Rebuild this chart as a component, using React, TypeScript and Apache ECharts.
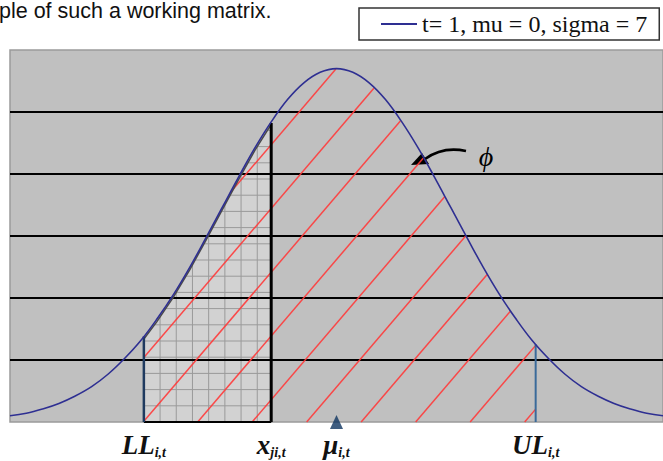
import React, { useEffect, useRef } from 'react';
import * as echarts from 'echarts';

// Normal density read along the x axis (t = 1, mu = 0, sigma = 7)
const CURVE_X = [
  -20, -19, -18, -17, -16, -15, -14, -13, -12, -11, -10, -9, -8, -7, -6, -5, -4, -3, -2, -1, 0,
  1, 2, 3, 4, 5, 6, 7, 8, 9, 10, 11, 12, 13, 14, 15, 16, 17, 18, 19, 20,
];
const DENSITY = [
  0.001, 0.0014, 0.0021, 0.003, 0.0042, 0.0057, 0.0077, 0.0102, 0.0131, 0.0166, 0.0205,
  0.0249, 0.0297, 0.0346, 0.0395, 0.0442, 0.0484, 0.052, 0.0547, 0.0564, 0.057,
  0.0564, 0.0547, 0.052, 0.0484, 0.0442, 0.0395, 0.0346, 0.0297, 0.0249, 0.0205,
  0.0166, 0.0131, 0.0102, 0.0077, 0.0057, 0.0042, 0.003, 0.0021, 0.0014, 0.001,
];
const SERIES_NAME = 't= 1, mu = 0, sigma = 7';

// Horizontal reference lines
const Y_TICKS = [0.01, 0.02, 0.03, 0.04, 0.05];

// Marked positions on the x axis: lower limit, x_ji, mean, upper limit
const MARKER_VALUES = [-11.8, -4, 0, 12.2];
const MARKER_MAIN = ['LL', 'x', 'μ', 'UL'];
const MARKER_SUB = ['i,t', 'ji,t', 'i,t', 'i,t'];

const HEADER_TEXT = 'ple of such a working matrix.';
const CURVE_SYMBOL = '\u03D5';

const X_MIN = -20;
const X_MAX = 20;
const Y_MAX = 0.06;

const SERIF = '"Liberation Serif", "Times New Roman", "DejaVu Serif", serif';
const SANS = '"Liberation Sans", Arial, sans-serif';

// Drawing styles for the shaded bands
const HATCH_SLOPE = 1.17;
const HATCH_SPACING = 54.5;
const HATCH_PHASE = 11;
const CELL = 16.2;
const EDGE_GAP = 2.5;

const [LL, XJ, MU, UL] = MARKER_VALUES;

function renderDiagram(_params: any, api: any) {
  const [left, bottom] = api.coord([X_MIN, 0]);
  const right = api.coord([X_MAX, 0])[0];
  const top = api.coord([X_MIN, Y_MAX])[1];
  const pts: number[][] = CURVE_X.map((x, i) => api.coord([x, DENSITY[i]]));

  const curveY = (px: number) => {
    for (let i = 1; i < pts.length; i++) {
      if (px <= pts[i][0]) {
        const [x0, y0] = pts[i - 1];
        const [x1, y1] = pts[i];
        const t = (px - x0) / (x1 - x0);
        return y0 + t * (y1 - y0);
      }
    }
    return pts[pts.length - 1][1];
  };

  const llx = api.coord([LL, 0])[0];
  const xjx = api.coord([XJ, 0])[0];
  const ulx = api.coord([UL, 0])[0];

  const children: any[] = [];

  // Cross-hatched band between LL and x_ji
  const edge: number[][] = [[llx, curveY(llx) + EDGE_GAP]];
  pts.forEach((p) => {
    if (p[0] > llx && p[0] < xjx) edge.push([p[0], p[1] + EDGE_GAP]);
  });
  edge.push([xjx, curveY(xjx) + EDGE_GAP]);
  children.push({
    type: 'polygon',
    shape: { points: [[llx, bottom], ...edge, [xjx, bottom]] },
    style: { fill: '#D2D2D2', stroke: 'none' },
  });
  for (let px = llx + CELL; px < xjx - 2; px += CELL) {
    children.push({
      type: 'line',
      shape: { x1: px, y1: bottom, x2: px, y2: curveY(px) + EDGE_GAP },
      style: { stroke: '#9A9A9A', lineWidth: 1 },
    });
  }
  const topAtXj = curveY(xjx) + EDGE_GAP;
  for (let py = bottom - CELL; py > topAtXj; py -= CELL) {
    let sx = xjx;
    for (let px = llx; px <= xjx; px += 0.5) {
      if (curveY(px) + EDGE_GAP <= py) {
        sx = px;
        break;
      }
    }
    children.push({
      type: 'line',
      shape: { x1: sx, y1: py, x2: xjx, y2: py },
      style: { stroke: '#9A9A9A', lineWidth: 1 },
    });
  }

  // Horizontal reference lines
  Y_TICKS.forEach((v) => {
    const y = api.coord([X_MIN, v])[1];
    children.push({
      type: 'line',
      shape: { x1: left, y1: y, x2: right, y2: y },
      style: { stroke: '#000', lineWidth: 1.8 },
    });
  });

  // Diagonal hatch between LL and UL under the curve
  const rise = bottom - top;
  for (let b = ulx - HATCH_PHASE; b > llx - rise / HATCH_SLOPE; b -= HATCH_SPACING) {
    let start: number | null = null;
    let last = 0;
    const push = (s: number, e: number) => {
      if (e - s < 0.5) return;
      children.push({
        type: 'line',
        shape: {
          x1: s,
          y1: bottom - HATCH_SLOPE * (s - b),
          x2: e,
          y2: bottom - HATCH_SLOPE * (e - b),
        },
        style: { stroke: '#FF3A3A', lineWidth: 1.5, opacity: 0.9 },
      });
    };
    for (let px = Math.max(b, llx); px <= ulx; px += 0.5) {
      const y = bottom - HATCH_SLOPE * (px - b);
      const inside = y <= bottom + 0.01 && y >= curveY(px);
      if (inside && start === null) start = px;
      if (!inside && start !== null) {
        push(start, last);
        start = null;
      }
      last = px;
    }
    if (start !== null) push(start, last);
  }

  // Boundary lines
  children.push({
    type: 'polyline',
    shape: { points: edge },
    style: { stroke: '#4A4A4A', lineWidth: 1.5, fill: 'none' },
  });
  children.push({
    type: 'line',
    shape: { x1: llx, y1: bottom, x2: xjx, y2: bottom },
    style: { stroke: '#000', lineWidth: 2 },
  });
  children.push({
    type: 'line',
    shape: { x1: llx, y1: bottom, x2: llx, y2: curveY(llx) },
    style: { stroke: '#1F3A5F', lineWidth: 2.5 },
  });
  children.push({
    type: 'line',
    shape: { x1: xjx, y1: bottom, x2: xjx, y2: curveY(xjx) + 1 },
    style: { stroke: '#000', lineWidth: 3 },
  });
  children.push({
    type: 'line',
    shape: { x1: ulx, y1: bottom, x2: ulx, y2: curveY(ulx) },
    style: { stroke: '#3A6A9A', lineWidth: 2 },
  });

  // Axis labels with subscripts
  MARKER_VALUES.forEach((v, i) => {
    const x = api.coord([v, 0])[0];
    children.push({
      type: 'text',
      x,
      y: bottom + 23,
      style: {
        text: `{m|${MARKER_MAIN[i]}}{s|${MARKER_SUB[i]}}`,
        align: 'center',
        verticalAlign: 'middle',
        fill: '#111',
        rich: {
          m: {
            fontSize: 27,
            fontStyle: 'italic',
            fontWeight: 'bold',
            fontFamily: SERIF,
            fill: '#111',
            lineHeight: 28,
          },
          s: {
            fontSize: 14,
            fontStyle: 'italic',
            fontWeight: 'bold',
            fontFamily: SERIF,
            fill: '#111',
            lineHeight: 12,
            verticalAlign: 'bottom',
          },
        },
      },
    });
  });

  return { type: 'group', children };
}

export default function App() {
  const ref = useRef<HTMLDivElement>(null);

  useEffect(() => {
    if (!ref.current) return;
    const chart = echarts.init(ref.current, null, { renderer: 'svg' });
    const curveData = CURVE_X.map((x, i) => [x, DENSITY[i]]);

    chart.setOption({
      animation: false,
      backgroundColor: '#ffffff',
      grid: {
        left: 10,
        top: 50,
        width: 654,
        height: 372,
        show: true,
        backgroundColor: '#C0C0C0',
        borderColor: '#9A9A9A',
        borderWidth: 1.5,
      },
      xAxis: { type: 'value', min: X_MIN, max: X_MAX, interval: 5, show: false },
      yAxis: {
        type: 'value',
        min: 0,
        max: Y_MAX,
        interval: 0.01,
        show: false,
        splitLine: { show: false },
      },
      legend: {
        data: [SERIES_NAME],
        left: 359,
        top: 8,
        padding: [4, 12, 4, 22],
        borderColor: '#333',
        borderWidth: 1.5,
        backgroundColor: '#fff',
        icon: 'rect',
        itemWidth: 36,
        itemHeight: 2,
        selectedMode: false,
        textStyle: { fontFamily: SERIF, fontSize: 24, color: '#111', lineHeight: 24 },
      },
      graphic: [
        {
          type: 'text',
          left: -1,
          top: 0,
          style: { text: HEADER_TEXT, font: `21.5px ${SANS}`, fill: '#111' },
        },
        {
          type: 'text',
          x: 486,
          y: 156,
          style: {
            text: CURVE_SYMBOL,
            fontSize: 28,
            fontStyle: 'italic',
            fontFamily: SERIF,
            fill: '#000',
            align: 'center',
            verticalAlign: 'middle',
          },
        },
        {
          type: 'bezierCurve',
          shape: { x1: 466, y1: 151, cpx1: 443, cpy1: 146, x2: 425, y2: 159 },
          style: { stroke: '#000', lineWidth: 2.6, fill: 'none' },
        },
        {
          type: 'polygon',
          shape: { points: [[411, 165], [422, 153], [429, 164]] },
          style: { fill: '#000' },
        },
      ],
      series: [
        {
          type: 'custom',
          name: 'bands',
          renderItem: renderDiagram,
          data: [[MU, 0]],
          clip: false,
          silent: true,
          z: 2,
        },
        {
          type: 'line',
          name: SERIES_NAME,
          data: curveData,
          smooth: 0.4,
          showSymbol: false,
          color: '#2E2F92',
          lineStyle: { color: '#2E2F92', width: 1.6 },
          silent: true,
          z: 3,
        },
        {
          type: 'scatter',
          name: 'mean',
          data: [[MU, 0]],
          symbol: 'triangle',
          symbolSize: [13, 14],
          itemStyle: { color: '#0F3560' },
          clip: false,
          silent: true,
          z: 5,
        },
      ],
    });

    return () => chart.dispose();
  }, []);

  return (
    <div
      ref={ref}
      style={{ position: 'fixed', left: 0, top: 0, width: 663, height: 461, background: '#fff' }}
    />
  );
}
